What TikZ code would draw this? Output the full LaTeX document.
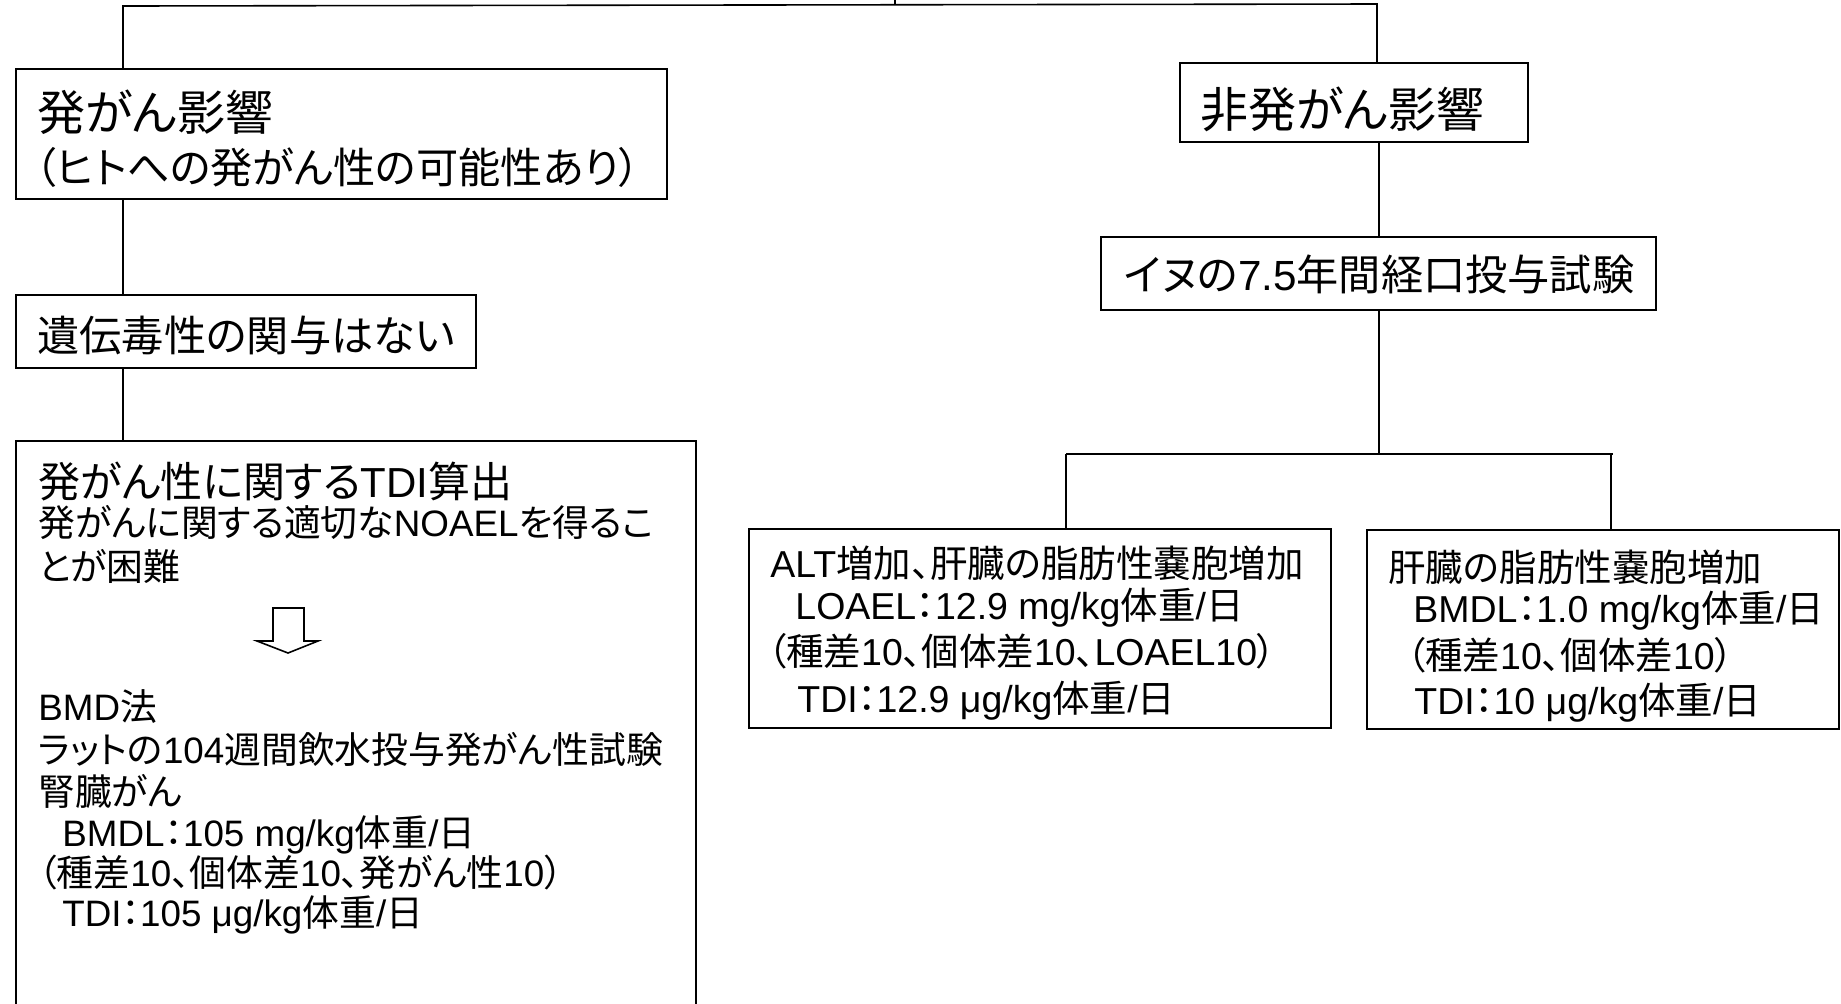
\documentclass[tikz,border=0pt]{standalone}
\usepackage{fontspec}
\setmainfont{Noto Sans CJK JP}[RawFeature=+palt]
\newfontfamily\latf{Liberation Sans}
\newcommand\LT[1]{{\latf #1}}
\usetikzlibrary{fit,calc}
\tikzset{
  bx/.style={draw, line width=1.1pt, inner sep=0pt, rectangle},
  conn/.style={line width=0.8pt},
  tA/.style={anchor=base west, inner sep=0pt, font=\fontsize{24pt}{28pt}\selectfont},
  tB/.style={anchor=base west, inner sep=0pt, font=\fontsize{21.1pt}{25pt}\selectfont},
  tC/.style={anchor=base west, inner sep=0pt, font=\fontsize{21pt}{24pt}\selectfont},
  tD/.style={anchor=base west, inner sep=0pt, font=\fontsize{18.75pt}{22pt}\selectfont},
  tE/.style={anchor=base west, inner sep=0pt, font=\fontsize{18.4pt}{22pt}\selectfont},
}
\begin{document}
\begin{tikzpicture}[x=0.5pt, y=-0.5pt]
\useasboundingbox[fill=white] (0,0) rectangle (1841,1003);

% boxes
\node[bx, fit={(16,69) (667,199)}] (b1) {};
\node[bx, fit={(16,295) (476,368)}] (b2) {};
\node[bx, fit={(16,441) (696,1030)}] (b3) {};
\node[bx, fit={(1180,63) (1528,142)}] (b4) {};
\node[bx, fit={(1101,237) (1656,310)}] (b5) {};
\node[bx, fit={(749,529) (1331,728)}] (b6) {};
\node[bx, fit={(1367,530) (1839,729)}] (b7) {};

% connector coordinates
\coordinate (top) at (895,-10);
\coordinate (jt) at (895,5);
\coordinate (jl) at (123,6);
\coordinate (jr) at (1377,4);
\coordinate (cx) at (1379,454);
\coordinate (sl) at (1066,454);
\coordinate (sr) at (1611,454);

\draw[conn] (top) -- (jt);
\draw[conn] (b1.north -| jl) -- (jl) -- (jr) -- (b4.north -| jr);
\draw[conn] (b1.south -| jl) -- (b2.north -| jl);
\draw[conn] (b2.south -| jl) -- (b3.north -| jl);
\draw[conn] (b4.south -| cx) -- (b5.north -| cx);
\draw[conn] (b5.south -| cx) -- (cx);
\draw[conn] (sl) -- ($(sr)+(2,0)$);
\draw[conn] (sl) -- (b6.north -| sl);
\draw[conn] (sr) -- (b7.north -| sr);

% texts box1
\node[tA] (t11) at (37,130) {発がん影響};
\node[tB] (t12) at (35,183) {（ヒトへの発がん性の可能性あり）};
% box2
\node[tB] (t21) at (37,351) {遺伝毒性の関与はない};
% box4, box5
\node[tA] (t41) at (1200,127) {非発がん影響};
\node[tB] (t51) at (1124,290) {イヌの\LT{7.5}年間経口投与試験};

% box3
\node[tC] (t31) at (38,497) {発がん性に関する\LT{TDI}算出};
\node[tE] (t32) at (38,536) {発がんに関する適切な\LT{NOAEL}を得るこ};
\node[tE] (t33) at (38,580) {とが困難};
\draw[line width=0.8pt] (273,608) -- (304,608) -- (304,641) -- (318,641) -- (288,653) -- (257,641) -- (273,641) -- cycle;
\node[tE] (t34) at (38,720) {\LT{BMD}法};
\node[tE] (t35) at (38,763) {ラットの\LT{104}週間飲水投与発がん性試験};
\node[tE] (t36) at (38,805) {腎臓がん};
\node[tE] (t37) at (62,846) {\LT{BMDL}：\LT{105 mg/kg}体重\LT{/}日};
\node[tE] (t38) at (38,886) {（種差\LT{10}、個体差\LT{10}、発がん性\LT{10}）};
\node[tE] (t39) at (62,926) {\LT{TDI}：\LT{105 μg/kg}体重\LT{/}日};

% box6
\node[tD] (t61) at (770,577) {\LT{ALT}増加、肝臓の脂肪性嚢胞増加};
\node[tD] (t62) at (795,619) {\LT{LOAEL}：\LT{12.9 mg/kg}体重\LT{/}日};
\node[tD] (t63) at (767,665) {（種差\LT{10}、個体差\LT{10}、\LT{LOAEL10}）};
\node[tD] (t64) at (797,712) {\LT{TDI}：\LT{12.9 μg/kg}体重\LT{/}日};

% box7
\node[tD] (t71) at (1388,581) {肝臓の脂肪性嚢胞増加};
\node[tD] (t72) at (1413,622) {\LT{BMDL}：\LT{1.0 mg/kg}体重\LT{/}日};
\node[tD] (t73) at (1406,669) {（種差\LT{10}、個体差\LT{10}）};
\node[tD] (t74) at (1414,714) {\LT{TDI}：\LT{10 μg/kg}体重\LT{/}日};
\end{tikzpicture}
\end{document}
